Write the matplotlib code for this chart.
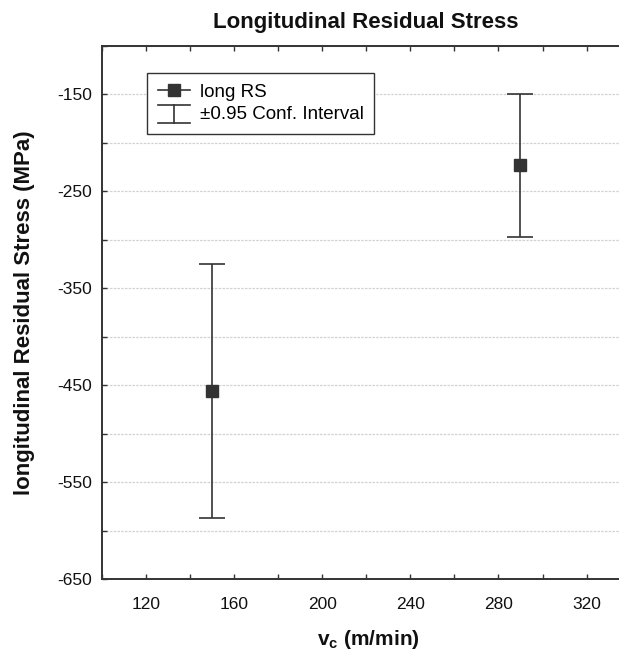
import matplotlib
matplotlib.use("Agg")
import matplotlib.pyplot as plt
from matplotlib.legend_handler import HandlerBase
from matplotlib.lines import Line2D
from matplotlib.ticker import MultipleLocator, FixedLocator

plt.rcParams["font.family"] = ["Liberation Sans", "DejaVu Sans"]
plt.rcParams["mathtext.fontset"] = "custom"
plt.rcParams["mathtext.rm"] = "Liberation Sans"
plt.rcParams["mathtext.bf"] = "Liberation Sans:bold"
plt.rcParams["axes.unicode_minus"] = False

# cutting speed (m/min) vs longitudinal residual stress (MPa)
cutting_speed = [150, 290]
long_rs = [-456, -223]
conf_95 = [131, 74]

y_ticks = [-150, -250, -350, -450, -550, -650]
x_ticks = [120, 160, 200, 240, 280, 320]

dark = "#333333"
text_col = "#111111"


class ConfIntervalHandler(HandlerBase):
    # draws an "I" shaped symbol for the confidence interval entry
    def create_artists(self, legend, orig_handle, xdescent, ydescent,
                       width, height, fontsize, trans):
        x0 = -xdescent
        x1 = x0 + width
        xm = (x0 + x1) / 2
        y0 = -ydescent - 0.3 * height
        y1 = -ydescent + 1.1 * height
        kw = dict(color=dark, lw=1.2, transform=trans)
        return [Line2D([x0, x1], [y1, y1], **kw),
                Line2D([xm, xm], [y0, y1], **kw),
                Line2D([x0, x1], [y0, y0], **kw)]


fig = plt.figure(figsize=(6.19, 6.5), dpi=100)
ax = fig.add_axes([0.1643, 0.1088, 0.8546, 0.9292 - 0.1088])

ax.errorbar(cutting_speed, long_rs, yerr=conf_95, fmt="s", color=dark,
            ecolor=dark, elinewidth=1.2, capsize=9.5, capthick=1.2,
            markersize=8, zorder=3)

ax.set_xlim(100, 340)
ax.set_ylim(-650, -100)

ax.xaxis.set_major_locator(FixedLocator(x_ticks))
ax.xaxis.set_minor_locator(MultipleLocator(20))
ax.yaxis.set_major_locator(FixedLocator(y_ticks))
ax.yaxis.set_minor_locator(MultipleLocator(50))
ax.tick_params(axis="both", which="both", direction="in", length=3.5,
               width=1.0, color=dark, labelsize=12.5, labelcolor=text_col)
ax.tick_params(axis="x", which="both", top=True, pad=13)
ax.tick_params(axis="y", which="both", pad=7)

for s in ["left", "bottom", "top"]:
    ax.spines[s].set_color(dark)
    ax.spines[s].set_linewidth(1.4)
ax.spines["right"].set_visible(False)

ax.grid(axis="y", which="both", color="#d2d2d2", linestyle=(0, (2, 1)),
        linewidth=0.9)
ax.set_axisbelow(True)

ax.set_title("Longitudinal Residual Stress", fontsize=16,
             fontweight="bold", pad=13, color=text_col)
ax.set_xlabel(r"v$_\mathbf{c}$ (m/min)", fontsize=15, fontweight="bold",
              color=text_col, va="top")
ax.set_ylabel("longitudinal Residual Stress (MPa)", fontsize=16,
              fontweight="bold", color=text_col)
ax.xaxis.set_label_coords(0.505, -0.092)
ax.yaxis.set_label_coords(-0.126, 0.5)

rs_handle = Line2D([], [], color=dark, marker="s", markersize=8, lw=1.2)
ci_handle = Line2D([], [], color=dark)
leg = ax.legend([rs_handle, ci_handle],
                ["long RS", "\u00b10.95 Conf. Interval"],
                handler_map={ci_handle: ConfIntervalHandler()},
                loc="upper left", bbox_to_anchor=(0.086, 0.949),
                borderaxespad=0, fontsize=13.5, fancybox=False,
                handlelength=1.75, handletextpad=0.5, labelspacing=0.3,
                borderpad=0.55, framealpha=1)
leg.get_frame().set_edgecolor(dark)
leg.get_frame().set_linewidth(1.0)

fig.savefig("out.png", dpi=100)
